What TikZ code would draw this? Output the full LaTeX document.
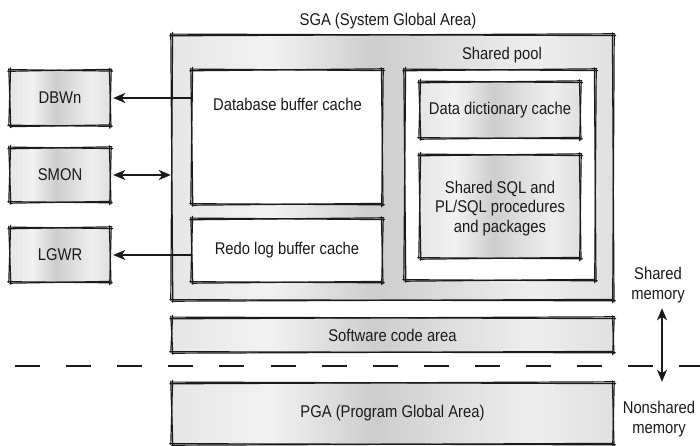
\documentclass[tikz,border=0pt]{standalone}
\usepackage{fontspec}
\setmainfont{Liberation Sans}[FakeStretch=0.87]
\usetikzlibrary{arrows.meta}

\definecolor{ink}{HTML}{1A1A1A}
\definecolor{m1}{HTML}{E6E6E6}
\definecolor{m2}{HTML}{F2F2F2}
\definecolor{m3}{HTML}{CDCDCD}
\definecolor{m4}{HTML}{D9D9D9}
\definecolor{m5}{HTML}{EEEEEE}
\definecolor{m6}{HTML}{E0E0E0}

% brushed-metal fill, varying from left to right
\pgfdeclarehorizontalshading{brushed}{100bp}{%
  color(0bp)=(m1); color(25bp)=(m1); color(36bp)=(m2); color(48bp)=(m3);
  color(54bp)=(m4); color(66bp)=(m5); color(75bp)=(m6); color(100bp)=(m6)}

% hand-drawn double outline round a node
\newcommand\roughframe[1]{%
  \draw[rough] ([shift={(-2,1)}]#1.north west) -- ([shift={(1.5,-1)}]#1.north east);
  \draw[rough] ([shift={(0,-0.7)}]#1.north west) -- ([shift={(2.5,0.8)}]#1.north east);
  \draw[rough] ([shift={(-0.8,-2)}]#1.north east) -- ([shift={(0.8,1.5)}]#1.south east);
  \draw[rough] ([shift={(1,0)}]#1.north east) -- ([shift={(-0.5,2.5)}]#1.south east);
  \draw[rough] ([shift={(2,0.6)}]#1.south east) -- ([shift={(-2,-0.5)}]#1.south west);
  \draw[rough] ([shift={(-0.5,-0.8)}]#1.south east) -- ([shift={(0,1)}]#1.south west);
  \draw[rough] ([shift={(1,2)}]#1.south west) -- ([shift={(-1,-1.5)}]#1.north west);
  \draw[rough] ([shift={(-1,0)}]#1.south west) -- ([shift={(0.8,-2.5)}]#1.north west);
}

\begin{document}
\begin{tikzpicture}[x=1pt,y=-1pt,
  every node/.style={font=\fontsize{17}{19.5}\selectfont, text=ink},
  metalbox/.style={shade, shading=brushed, draw=none, inner sep=0pt},
  whitebox/.style={fill=white, draw=none, inner sep=0pt},
  rough/.style={line width=1.2pt, draw=ink, line cap=round},
  >={Stealth[length=12pt,width=10pt,inset=3.5pt]},
  link/.style={line width=2pt, draw=ink, ->},
  twoway/.style={line width=2pt, draw=ink, <->},
  divider/.style={line width=2pt, draw=ink, dash pattern=on 25pt off 26.1pt}
]
\useasboundingbox (0,0) rectangle (700,446);

% System Global Area
\node (sgalabel) at (388,21) {SGA (System Global Area)};
\node[metalbox, minimum width=441pt, minimum height=265pt] (sga) at (392.5,167.5) {};
\roughframe{sga}

\node[whitebox, minimum width=190pt, minimum height=134pt] (dbc) at (287,137) {};
\roughframe{dbc}
\node (dbclabel) at (287.5,104) {Database buffer cache};

\node[whitebox, minimum width=190pt, minimum height=63pt] (redo) at (287,250.5) {Redo log buffer cache};
\roughframe{redo}

\node (poollabel) at (502,55) {Shared pool};
\node[whitebox, minimum width=190pt, minimum height=210pt] (pool) at (500,175) {};
\roughframe{pool}

\node[metalbox, minimum width=160pt, minimum height=56pt] (dict) at (500,110) {Data dictionary cache};
\roughframe{dict}
\node[metalbox, minimum width=160pt, minimum height=103pt, align=center, text depth=-1.5pt] (sql) at (500,206.5)
  {Shared SQL and\\PL/SQL procedures\\and packages};
\roughframe{sql}

% background processes
\node[metalbox, minimum width=100pt, minimum height=55pt] (dbwn) at (60,98) {DBWn};
\roughframe{dbwn}
\node[metalbox, minimum width=100pt, minimum height=54pt] (smon) at (60,175) {SMON};
\roughframe{smon}
\node[metalbox, minimum width=100pt, minimum height=54pt] (lgwr) at (60,255) {LGWR};
\roughframe{lgwr}

% code area and PGA
\node[metalbox, minimum width=441pt, minimum height=34pt] (code) at (392.5,335) {Software code area};
\roughframe{code}
\node[metalbox, minimum width=441pt, minimum height=61pt] (pga) at (392.5,413.5) {PGA (Program Global Area)};
\roughframe{pga}

% shared / nonshared boundary
\coordinate (divL) at (15,366);
\coordinate (divR) at (705,366);
\draw[divider] (divL) -- (divR);

\node[align=center] (shm) at (658,285) {Shared\\memory};
\node[align=center] (nsm) at (659,419) {Nonshared\\memory};

% connectors
\draw[link, shorten >=3pt] (dbc.west |- dbwn) -- (dbwn);
\draw[twoway, shorten <=3pt, shorten >=1pt] (smon) -- (smon -| sga.west);
\draw[link, shorten >=3pt] (redo.west |- lgwr) -- (lgwr);
\draw[twoway, shorten <=2pt, shorten >=16pt] ([xshift=4pt]shm.south) -- ([xshift=3pt]nsm.north);
\end{tikzpicture}
\end{document}
